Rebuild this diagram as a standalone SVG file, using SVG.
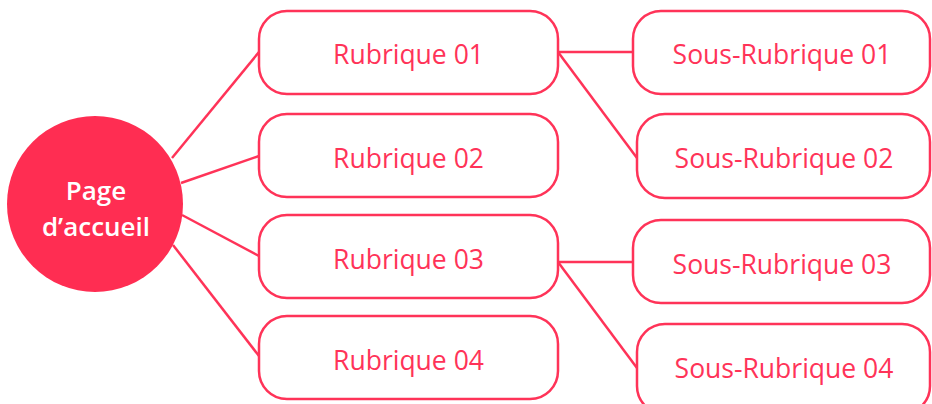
<svg xmlns="http://www.w3.org/2000/svg" width="932" height="404" viewBox="0 0 932 404">
<style>
.box{fill:#fff;stroke:#FF3358;stroke-width:2.5}
.lbl{font-family:"Open Sans","Liberation Sans",sans-serif;font-size:26.5px;fill:#FF3358;text-anchor:middle}
.conn line{stroke:#FF3358;stroke-width:2.5}
.home{font-family:"Open Sans","Liberation Sans",sans-serif;font-size:26px;font-weight:600;fill:#fff;text-anchor:middle}
</style>
<rect width="932" height="404" fill="#fff"/>
<g id="connectors" class="conn">
<line x1="172" y1="158" x2="259" y2="52"/>
<line x1="181" y1="183" x2="259" y2="156"/>
<line x1="182" y1="215" x2="259" y2="256"/>
<line x1="173" y1="245" x2="259" y2="356"/>
<line x1="558" y1="52" x2="633" y2="52"/>
<line x1="558" y1="52" x2="637" y2="158"/>
<line x1="558" y1="262" x2="633" y2="262"/>
<line x1="558" y1="262" x2="637" y2="368"/>
</g>
<g id="home">
<circle cx="95" cy="204" r="88" fill="#FF2D52"/>
<text class="home" x="96" y="200">Page</text>
<text class="home" x="96" y="236">d’accueil</text>
</g>
<g id="rubrique01"><rect class="box" x="259" y="11" width="299" height="83" rx="28"/><text class="lbl" x="408.5" y="64">Rubrique 01</text></g>
<g id="rubrique02"><rect class="box" x="259" y="114" width="299" height="83" rx="28"/><text class="lbl" x="408.5" y="168">Rubrique 02</text></g>
<g id="rubrique03"><rect class="box" x="259" y="215" width="299" height="83" rx="28"/><text class="lbl" x="408.5" y="269">Rubrique 03</text></g>
<g id="rubrique04"><rect class="box" x="259" y="316" width="299" height="83" rx="28"/><text class="lbl" x="408.5" y="370">Rubrique 04</text></g>
<g id="sous01"><rect class="box" x="633" y="11" width="297" height="83" rx="28"/><text class="lbl" x="782" y="64">Sous-Rubrique 01</text></g>
<g id="sous02"><rect class="box" x="637" y="114" width="293" height="84" rx="28"/><text class="lbl" x="784" y="168">Sous-Rubrique 02</text></g>
<g id="sous03"><rect class="box" x="633" y="220" width="297" height="83" rx="28"/><text class="lbl" x="782" y="274">Sous-Rubrique 03</text></g>
<g id="sous04"><rect class="box" x="637" y="324" width="293" height="90" rx="28"/><text class="lbl" x="784" y="378">Sous-Rubrique 04</text></g>
</svg>
